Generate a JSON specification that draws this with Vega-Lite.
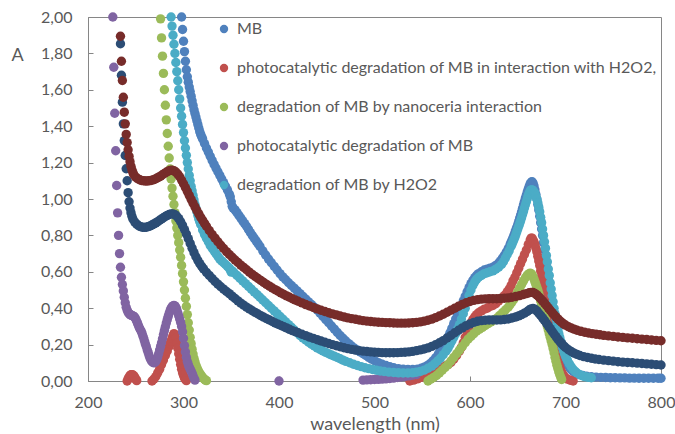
{
"$schema": "https://vega.github.io/schema/vega-lite/v6.json",
"width": 573, "height": 364,
"autosize": {"type": "none"},
"padding": {"left": 88, "top": 17, "right": 14, "bottom": 53},
"background": "white",
"config": {"view": {"stroke": "#868686", "strokeWidth": 1}, "font": "Lato"},
"datasets": {
"series": [
{"k":1,"series":"MB"},
{"k":2,"series":"photocatalytic degradation of MB in interaction with H2O2,"},
{"k":3,"series":"degradation of MB by nanoceria interaction"},
{"k":4,"series":"photocatalytic degradation of MB"},
{"k":5,"series":"degradation of MB by H2O2"},
{"k":6,"series":"series 6"},
{"k":7,"series":"series 7"}
],
"spectra": [
{"k":1,"x":298,"y":2.0},{"k":1,"x":299,"y":1.931},{"k":1,"x":300,"y":1.867},{"k":1,"x":301,"y":1.81},{"k":1,"x":302,"y":1.757},{"k":1,"x":303,"y":1.71},{"k":1,"x":304,"y":1.672},{"k":1,"x":305,"y":1.642},{"k":1,"x":306,"y":1.615},{"k":1,"x":307,"y":1.59},{"k":1,"x":308,"y":1.565},{"k":1,"x":309,"y":1.54},{"k":1,"x":310,"y":1.515},{"k":1,"x":311,"y":1.49},{"k":1,"x":312,"y":1.47},{"k":1,"x":313,"y":1.45},{"k":1,"x":314,"y":1.43},{"k":1,"x":315,"y":1.41},{"k":1,"x":316,"y":1.39},{"k":1,"x":317,"y":1.37},{"k":1,"x":318,"y":1.355},{"k":1,"x":319,"y":1.342},{"k":1,"x":320,"y":1.33},{"k":1,"x":322,"y":1.305},{"k":1,"x":324,"y":1.28},{"k":1,"x":326,"y":1.258},{"k":1,"x":328,"y":1.235},{"k":1,"x":330,"y":1.212},{"k":1,"x":332,"y":1.19},{"k":1,"x":334,"y":1.17},{"k":1,"x":336,"y":1.15},{"k":1,"x":338,"y":1.13},{"k":1,"x":340,"y":1.11},{"k":1,"x":342,"y":1.09},{"k":1,"x":344,"y":1.07},{"k":1,"x":346,"y":1.05},{"k":1,"x":348,"y":1.027},{"k":1,"x":349,"y":1.012},{"k":1,"x":350,"y":0.985},{"k":1,"x":351,"y":0.96},{"k":1,"x":352,"y":0.95},{"k":1,"x":354,"y":0.94},{"k":1,"x":356,"y":0.925},{"k":1,"x":358,"y":0.91},{"k":1,"x":360,"y":0.895},{"k":1,"x":362,"y":0.88},{"k":1,"x":364,"y":0.865},{"k":1,"x":366,"y":0.85},{"k":1,"x":368,"y":0.833},{"k":1,"x":370,"y":0.816},{"k":1,"x":372,"y":0.8},{"k":1,"x":374,"y":0.785},{"k":1,"x":376,"y":0.77},{"k":1,"x":378,"y":0.755},{"k":1,"x":380,"y":0.74},{"k":1,"x":383,"y":0.715},{"k":1,"x":386,"y":0.692},{"k":1,"x":389,"y":0.67},{"k":1,"x":392,"y":0.65},{"k":1,"x":395,"y":0.63},{"k":1,"x":398,"y":0.61},{"k":1,"x":401,"y":0.59},{"k":1,"x":404,"y":0.572},{"k":1,"x":407,"y":0.556},{"k":1,"x":410,"y":0.54},{"k":1,"x":413,"y":0.525},{"k":1,"x":416,"y":0.51},{"k":1,"x":419,"y":0.495},{"k":1,"x":422,"y":0.48},{"k":1,"x":425,"y":0.465},{"k":1,"x":428,"y":0.45},{"k":1,"x":431,"y":0.435},{"k":1,"x":434,"y":0.42},{"k":1,"x":437,"y":0.405},{"k":1,"x":440,"y":0.39},{"k":1,"x":443,"y":0.372},{"k":1,"x":446,"y":0.355},{"k":1,"x":449,"y":0.337},{"k":1,"x":452,"y":0.32},{"k":1,"x":455,"y":0.302},{"k":1,"x":458,"y":0.285},{"k":1,"x":461,"y":0.267},{"k":1,"x":464,"y":0.25},{"k":1,"x":467,"y":0.235},{"k":1,"x":470,"y":0.22},{"k":1,"x":473,"y":0.205},{"k":1,"x":476,"y":0.192},{"k":1,"x":479,"y":0.18},{"k":1,"x":482,"y":0.17},{"k":1,"x":485,"y":0.16},{"k":1,"x":488,"y":0.15},{"k":1,"x":491,"y":0.14},{"k":1,"x":494,"y":0.13},{"k":1,"x":497,"y":0.12},{"k":1,"x":500,"y":0.112},{"k":1,"x":504,"y":0.101},{"k":1,"x":508,"y":0.092},{"k":1,"x":512,"y":0.085},{"k":1,"x":516,"y":0.078},{"k":1,"x":520,"y":0.073},{"k":1,"x":525,"y":0.068},{"k":1,"x":530,"y":0.065},{"k":1,"x":535,"y":0.063},{"k":1,"x":540,"y":0.063},{"k":1,"x":545,"y":0.065},{"k":1,"x":549,"y":0.07},{"k":1,"x":552,"y":0.076},{"k":1,"x":555,"y":0.084},{"k":1,"x":558,"y":0.095},{"k":1,"x":561,"y":0.11},{"k":1,"x":564,"y":0.128},{"k":1,"x":567,"y":0.15},{"k":1,"x":569,"y":0.165},{"k":1,"x":571,"y":0.182},{"k":1,"x":573,"y":0.2},{"k":1,"x":575,"y":0.22},{"k":1,"x":577,"y":0.242},{"k":1,"x":579,"y":0.265},{"k":1,"x":581,"y":0.29},{"k":1,"x":583,"y":0.315},{"k":1,"x":585,"y":0.34},{"k":1,"x":587,"y":0.365},{"k":1,"x":589,"y":0.39},{"k":1,"x":591,"y":0.415},{"k":1,"x":593,"y":0.44},{"k":1,"x":595,"y":0.465},{"k":1,"x":597,"y":0.49},{"k":1,"x":599,"y":0.513},{"k":1,"x":601,"y":0.535},{"k":1,"x":603,"y":0.553},{"k":1,"x":605,"y":0.568},{"k":1,"x":607,"y":0.58},{"k":1,"x":609,"y":0.59},{"k":1,"x":612,"y":0.6},{"k":1,"x":615,"y":0.61},{"k":1,"x":618,"y":0.615},{"k":1,"x":621,"y":0.62},{"k":1,"x":624,"y":0.625},{"k":1,"x":627,"y":0.635},{"k":1,"x":630,"y":0.648},{"k":1,"x":632,"y":0.66},{"k":1,"x":634,"y":0.675},{"k":1,"x":636,"y":0.69},{"k":1,"x":638,"y":0.708},{"k":1,"x":640,"y":0.728},{"k":1,"x":642,"y":0.75},{"k":1,"x":643,"y":0.762},{"k":1,"x":644,"y":0.775},{"k":1,"x":645,"y":0.787},{"k":1,"x":646,"y":0.8},{"k":1,"x":647,"y":0.815},{"k":1,"x":648,"y":0.83},{"k":1,"x":649,"y":0.845},{"k":1,"x":650,"y":0.86},{"k":1,"x":651,"y":0.877},{"k":1,"x":652,"y":0.895},{"k":1,"x":653,"y":0.912},{"k":1,"x":654,"y":0.93},{"k":1,"x":655,"y":0.949},{"k":1,"x":656,"y":0.968},{"k":1,"x":657,"y":0.986},{"k":1,"x":658,"y":1.005},{"k":1,"x":659,"y":1.022},{"k":1,"x":660,"y":1.04},{"k":1,"x":661,"y":1.055},{"k":1,"x":662,"y":1.07},{"k":1,"x":663,"y":1.083},{"k":1,"x":664,"y":1.092},{"k":1,"x":665,"y":1.095},{"k":1,"x":666,"y":1.088},{"k":1,"x":667,"y":1.072},{"k":1,"x":668,"y":1.05},{"k":1,"x":669,"y":1.025},{"k":1,"x":670,"y":1.0},{"k":1,"x":671,"y":0.97},{"k":1,"x":672,"y":0.94},{"k":1,"x":673,"y":0.905},{"k":1,"x":674,"y":0.87},{"k":1,"x":675,"y":0.835},{"k":1,"x":676,"y":0.8},{"k":1,"x":677,"y":0.76},{"k":1,"x":678,"y":0.72},{"k":1,"x":679,"y":0.68},{"k":1,"x":680,"y":0.64},{"k":1,"x":681,"y":0.6},{"k":1,"x":682,"y":0.56},{"k":1,"x":683,"y":0.52},{"k":1,"x":684,"y":0.485},{"k":1,"x":685,"y":0.45},{"k":1,"x":686,"y":0.415},{"k":1,"x":687,"y":0.38},{"k":1,"x":688,"y":0.35},{"k":1,"x":689,"y":0.32},{"k":1,"x":690,"y":0.295},{"k":1,"x":691,"y":0.27},{"k":1,"x":692,"y":0.245},{"k":1,"x":693,"y":0.225},{"k":1,"x":694,"y":0.205},{"k":1,"x":695,"y":0.185},{"k":1,"x":696,"y":0.165},{"k":1,"x":697,"y":0.15},{"k":1,"x":698,"y":0.135},{"k":1,"x":699,"y":0.12},{"k":1,"x":700,"y":0.108},{"k":1,"x":702,"y":0.09},{"k":1,"x":704,"y":0.075},{"k":1,"x":706,"y":0.062},{"k":1,"x":708,"y":0.052},{"k":1,"x":711,"y":0.043},{"k":1,"x":714,"y":0.036},{"k":1,"x":718,"y":0.03},{"k":1,"x":722,"y":0.026},{"k":1,"x":727,"y":0.023},{"k":1,"x":732,"y":0.021},{"k":1,"x":737,"y":0.02},{"k":1,"x":742,"y":0.019},{"k":1,"x":747,"y":0.018},{"k":1,"x":752,"y":0.018},{"k":1,"x":757,"y":0.017},{"k":1,"x":762,"y":0.017},{"k":1,"x":767,"y":0.016},{"k":1,"x":772,"y":0.016},{"k":1,"x":777,"y":0.015},{"k":1,"x":782,"y":0.015},{"k":1,"x":787,"y":0.015},{"k":1,"x":792,"y":0.015},{"k":1,"x":797,"y":0.015},{"k":1,"x":800,"y":0.015},
{"k":2,"x":241,"y":0.0},{"k":2,"x":242,"y":0.012},{"k":2,"x":243,"y":0.022},{"k":2,"x":244,"y":0.03},{"k":2,"x":245,"y":0.034},{"k":2,"x":246,"y":0.035},{"k":2,"x":247,"y":0.033},{"k":2,"x":248,"y":0.028},{"k":2,"x":249,"y":0.02},{"k":2,"x":250,"y":0.01},{"k":2,"x":251,"y":0.002},
{"k":2,"x":267,"y":0.0},{"k":2,"x":269,"y":0.01},{"k":2,"x":271,"y":0.025},{"k":2,"x":273,"y":0.045},{"k":2,"x":275,"y":0.065},{"k":2,"x":277,"y":0.09},{"k":2,"x":279,"y":0.115},{"k":2,"x":281,"y":0.14},{"k":2,"x":283,"y":0.165},{"k":2,"x":285,"y":0.19},{"k":2,"x":286,"y":0.205},{"k":2,"x":287,"y":0.22},{"k":2,"x":288,"y":0.235},{"k":2,"x":289,"y":0.25},{"k":2,"x":290,"y":0.26},{"k":2,"x":291,"y":0.255},{"k":2,"x":292,"y":0.235},{"k":2,"x":293,"y":0.21},{"k":2,"x":294,"y":0.18},{"k":2,"x":295,"y":0.15},{"k":2,"x":296,"y":0.12},{"k":2,"x":297,"y":0.09},{"k":2,"x":298,"y":0.065},{"k":2,"x":299,"y":0.045},{"k":2,"x":300,"y":0.03},{"k":2,"x":301,"y":0.017},{"k":2,"x":302,"y":0.008},{"k":2,"x":303,"y":0.002},
{"k":2,"x":537,"y":0.0},{"k":2,"x":541,"y":0.005},{"k":2,"x":545,"y":0.012},{"k":2,"x":549,"y":0.02},{"k":2,"x":553,"y":0.03},{"k":2,"x":557,"y":0.04},{"k":2,"x":561,"y":0.05},{"k":2,"x":565,"y":0.06},{"k":2,"x":568,"y":0.068},{"k":2,"x":571,"y":0.075},{"k":2,"x":574,"y":0.082},{"k":2,"x":577,"y":0.09},{"k":2,"x":580,"y":0.102},{"k":2,"x":583,"y":0.12},{"k":2,"x":586,"y":0.14},{"k":2,"x":589,"y":0.165},{"k":2,"x":591,"y":0.185},{"k":2,"x":593,"y":0.21},{"k":2,"x":595,"y":0.24},{"k":2,"x":597,"y":0.27},{"k":2,"x":599,"y":0.297},{"k":2,"x":601,"y":0.32},{"k":2,"x":603,"y":0.338},{"k":2,"x":605,"y":0.353},{"k":2,"x":607,"y":0.365},{"k":2,"x":609,"y":0.375},{"k":2,"x":612,"y":0.385},{"k":2,"x":615,"y":0.395},{"k":2,"x":618,"y":0.4},{"k":2,"x":621,"y":0.41},{"k":2,"x":624,"y":0.415},{"k":2,"x":627,"y":0.425},{"k":2,"x":630,"y":0.44},{"k":2,"x":633,"y":0.455},{"k":2,"x":636,"y":0.47},{"k":2,"x":639,"y":0.49},{"k":2,"x":641,"y":0.505},{"k":2,"x":643,"y":0.525},{"k":2,"x":645,"y":0.55},{"k":2,"x":647,"y":0.57},{"k":2,"x":649,"y":0.595},{"k":2,"x":651,"y":0.62},{"k":2,"x":653,"y":0.645},{"k":2,"x":655,"y":0.67},{"k":2,"x":657,"y":0.695},{"k":2,"x":659,"y":0.72},{"k":2,"x":661,"y":0.75},{"k":2,"x":663,"y":0.775},{"k":2,"x":664,"y":0.785},{"k":2,"x":665,"y":0.785},{"k":2,"x":666,"y":0.775},{"k":2,"x":667,"y":0.765},{"k":2,"x":668,"y":0.75},{"k":2,"x":669,"y":0.73},{"k":2,"x":670,"y":0.71},{"k":2,"x":671,"y":0.685},{"k":2,"x":672,"y":0.66},{"k":2,"x":673,"y":0.635},{"k":2,"x":674,"y":0.605},{"k":2,"x":675,"y":0.575},{"k":2,"x":676,"y":0.545},{"k":2,"x":677,"y":0.515},{"k":2,"x":678,"y":0.485},{"k":2,"x":679,"y":0.455},{"k":2,"x":680,"y":0.425},{"k":2,"x":681,"y":0.395},{"k":2,"x":682,"y":0.365},{"k":2,"x":683,"y":0.335},{"k":2,"x":684,"y":0.305},{"k":2,"x":685,"y":0.275},{"k":2,"x":686,"y":0.25},{"k":2,"x":687,"y":0.225},{"k":2,"x":688,"y":0.2},{"k":2,"x":689,"y":0.175},{"k":2,"x":690,"y":0.15},{"k":2,"x":691,"y":0.13},{"k":2,"x":692,"y":0.11},{"k":2,"x":693,"y":0.09},{"k":2,"x":694,"y":0.075},{"k":2,"x":695,"y":0.06},{"k":2,"x":696,"y":0.048},{"k":2,"x":697,"y":0.038},{"k":2,"x":698,"y":0.03},{"k":2,"x":700,"y":0.018},{"k":2,"x":702,"y":0.01},{"k":2,"x":705,"y":0.004},{"k":2,"x":708,"y":0.0},
{"k":3,"x":276,"y":1.99},{"k":3,"x":277,"y":1.885},{"k":3,"x":278,"y":1.785},{"k":3,"x":279,"y":1.69},{"k":3,"x":280,"y":1.6},{"k":3,"x":281,"y":1.515},{"k":3,"x":282,"y":1.435},{"k":3,"x":283,"y":1.36},{"k":3,"x":284,"y":1.29},{"k":3,"x":285,"y":1.225},{"k":3,"x":286,"y":1.165},{"k":3,"x":287,"y":1.11},{"k":3,"x":288,"y":1.06},{"k":3,"x":289,"y":1.015},{"k":3,"x":290,"y":0.97},{"k":3,"x":291,"y":0.925},{"k":3,"x":292,"y":0.88},{"k":3,"x":293,"y":0.84},{"k":3,"x":294,"y":0.8},{"k":3,"x":295,"y":0.76},{"k":3,"x":296,"y":0.72},{"k":3,"x":297,"y":0.68},{"k":3,"x":298,"y":0.635},{"k":3,"x":299,"y":0.59},{"k":3,"x":300,"y":0.545},{"k":3,"x":301,"y":0.5},{"k":3,"x":302,"y":0.455},{"k":3,"x":303,"y":0.41},{"k":3,"x":304,"y":0.365},{"k":3,"x":305,"y":0.32},{"k":3,"x":306,"y":0.28},{"k":3,"x":307,"y":0.24},{"k":3,"x":308,"y":0.205},{"k":3,"x":309,"y":0.175},{"k":3,"x":310,"y":0.148},{"k":3,"x":311,"y":0.125},{"k":3,"x":312,"y":0.105},{"k":3,"x":313,"y":0.088},{"k":3,"x":314,"y":0.074},{"k":3,"x":315,"y":0.062},{"k":3,"x":316,"y":0.051},{"k":3,"x":317,"y":0.042},{"k":3,"x":318,"y":0.034},{"k":3,"x":319,"y":0.027},{"k":3,"x":320,"y":0.02},{"k":3,"x":321,"y":0.014},{"k":3,"x":322,"y":0.009},{"k":3,"x":323,"y":0.005},{"k":3,"x":324,"y":0.002},
{"k":3,"x":556,"y":0.0},{"k":3,"x":559,"y":0.01},{"k":3,"x":562,"y":0.02},{"k":3,"x":565,"y":0.03},{"k":3,"x":568,"y":0.045},{"k":3,"x":571,"y":0.06},{"k":3,"x":574,"y":0.075},{"k":3,"x":577,"y":0.09},{"k":3,"x":580,"y":0.11},{"k":3,"x":583,"y":0.13},{"k":3,"x":586,"y":0.15},{"k":3,"x":589,"y":0.17},{"k":3,"x":592,"y":0.19},{"k":3,"x":595,"y":0.21},{"k":3,"x":598,"y":0.23},{"k":3,"x":601,"y":0.245},{"k":3,"x":604,"y":0.26},{"k":3,"x":607,"y":0.275},{"k":3,"x":610,"y":0.285},{"k":3,"x":613,"y":0.295},{"k":3,"x":616,"y":0.305},{"k":3,"x":619,"y":0.315},{"k":3,"x":622,"y":0.325},{"k":3,"x":625,"y":0.335},{"k":3,"x":628,"y":0.345},{"k":3,"x":631,"y":0.36},{"k":3,"x":634,"y":0.375},{"k":3,"x":637,"y":0.39},{"k":3,"x":640,"y":0.405},{"k":3,"x":642,"y":0.42},{"k":3,"x":644,"y":0.435},{"k":3,"x":646,"y":0.45},{"k":3,"x":648,"y":0.47},{"k":3,"x":650,"y":0.49},{"k":3,"x":652,"y":0.51},{"k":3,"x":654,"y":0.53},{"k":3,"x":656,"y":0.55},{"k":3,"x":658,"y":0.567},{"k":3,"x":660,"y":0.582},{"k":3,"x":662,"y":0.59},{"k":3,"x":663,"y":0.592},{"k":3,"x":664,"y":0.59},{"k":3,"x":665,"y":0.583},{"k":3,"x":666,"y":0.573},{"k":3,"x":667,"y":0.56},{"k":3,"x":668,"y":0.545},{"k":3,"x":669,"y":0.53},{"k":3,"x":670,"y":0.515},{"k":3,"x":671,"y":0.5},{"k":3,"x":672,"y":0.48},{"k":3,"x":673,"y":0.46},{"k":3,"x":674,"y":0.44},{"k":3,"x":675,"y":0.42},{"k":3,"x":676,"y":0.4},{"k":3,"x":677,"y":0.38},{"k":3,"x":678,"y":0.36},{"k":3,"x":679,"y":0.34},{"k":3,"x":680,"y":0.32},{"k":3,"x":681,"y":0.3},{"k":3,"x":682,"y":0.28},{"k":3,"x":683,"y":0.26},{"k":3,"x":684,"y":0.24},{"k":3,"x":685,"y":0.22},{"k":3,"x":686,"y":0.2},{"k":3,"x":687,"y":0.178},{"k":3,"x":688,"y":0.155},{"k":3,"x":689,"y":0.13},{"k":3,"x":690,"y":0.108},{"k":3,"x":691,"y":0.087},{"k":3,"x":692,"y":0.068},{"k":3,"x":693,"y":0.05},{"k":3,"x":694,"y":0.035},{"k":3,"x":695,"y":0.02},{"k":3,"x":696,"y":0.008},
{"k":4,"x":226,"y":2.0},{"k":4,"x":227,"y":1.724},{"k":4,"x":228,"y":1.471},{"k":4,"x":229,"y":1.265},{"k":4,"x":230,"y":1.074},{"k":4,"x":231,"y":0.924},{"k":4,"x":232,"y":0.8},{"k":4,"x":233,"y":0.7},{"k":4,"x":234,"y":0.625},{"k":4,"x":235,"y":0.57},{"k":4,"x":236,"y":0.53},{"k":4,"x":237,"y":0.495},{"k":4,"x":238,"y":0.46},{"k":4,"x":239,"y":0.43},{"k":4,"x":240,"y":0.405},{"k":4,"x":241,"y":0.39},{"k":4,"x":242,"y":0.378},{"k":4,"x":243,"y":0.37},{"k":4,"x":244,"y":0.365},{"k":4,"x":245,"y":0.362},{"k":4,"x":246,"y":0.36},{"k":4,"x":247,"y":0.358},{"k":4,"x":248,"y":0.355},{"k":4,"x":249,"y":0.35},{"k":4,"x":250,"y":0.34},{"k":4,"x":251,"y":0.328},{"k":4,"x":252,"y":0.315},{"k":4,"x":253,"y":0.302},{"k":4,"x":254,"y":0.29},{"k":4,"x":255,"y":0.28},{"k":4,"x":256,"y":0.27},{"k":4,"x":257,"y":0.255},{"k":4,"x":258,"y":0.24},{"k":4,"x":259,"y":0.222},{"k":4,"x":260,"y":0.205},{"k":4,"x":261,"y":0.19},{"k":4,"x":262,"y":0.172},{"k":4,"x":263,"y":0.157},{"k":4,"x":264,"y":0.14},{"k":4,"x":265,"y":0.125},{"k":4,"x":266,"y":0.115},{"k":4,"x":267,"y":0.107},{"k":4,"x":268,"y":0.102},{"k":4,"x":269,"y":0.1},{"k":4,"x":270,"y":0.102},{"k":4,"x":271,"y":0.108},{"k":4,"x":272,"y":0.118},{"k":4,"x":273,"y":0.132},{"k":4,"x":274,"y":0.15},{"k":4,"x":275,"y":0.17},{"k":4,"x":276,"y":0.19},{"k":4,"x":277,"y":0.21},{"k":4,"x":278,"y":0.232},{"k":4,"x":279,"y":0.255},{"k":4,"x":280,"y":0.277},{"k":4,"x":281,"y":0.298},{"k":4,"x":282,"y":0.318},{"k":4,"x":283,"y":0.337},{"k":4,"x":284,"y":0.355},{"k":4,"x":285,"y":0.372},{"k":4,"x":286,"y":0.387},{"k":4,"x":287,"y":0.399},{"k":4,"x":288,"y":0.408},{"k":4,"x":289,"y":0.413},{"k":4,"x":290,"y":0.415},{"k":4,"x":291,"y":0.413},{"k":4,"x":292,"y":0.405},{"k":4,"x":293,"y":0.392},{"k":4,"x":294,"y":0.375},{"k":4,"x":295,"y":0.358},{"k":4,"x":296,"y":0.34},{"k":4,"x":297,"y":0.322},{"k":4,"x":298,"y":0.3},{"k":4,"x":299,"y":0.27},{"k":4,"x":300,"y":0.235},{"k":4,"x":301,"y":0.195},{"k":4,"x":302,"y":0.16},{"k":4,"x":303,"y":0.13},{"k":4,"x":304,"y":0.107},{"k":4,"x":305,"y":0.09},{"k":4,"x":306,"y":0.076},{"k":4,"x":307,"y":0.065},{"k":4,"x":308,"y":0.055},{"k":4,"x":309,"y":0.042},{"k":4,"x":310,"y":0.028},{"k":4,"x":311,"y":0.015},{"k":4,"x":312,"y":0.005},
{"k":4,"x":400,"y":0.0},
{"k":4,"x":488,"y":0.005},{"k":4,"x":492,"y":0.006},{"k":4,"x":496,"y":0.007},{"k":4,"x":500,"y":0.008},{"k":4,"x":504,"y":0.009},{"k":4,"x":508,"y":0.01},{"k":4,"x":512,"y":0.012},{"k":4,"x":516,"y":0.014},{"k":4,"x":520,"y":0.016},{"k":4,"x":524,"y":0.019},{"k":4,"x":528,"y":0.022},{"k":4,"x":532,"y":0.025},{"k":4,"x":536,"y":0.028},{"k":4,"x":540,"y":0.032},{"k":4,"x":544,"y":0.036},
{"k":5,"x":287,"y":2.0},{"k":5,"x":288,"y":1.95},{"k":5,"x":289,"y":1.9},{"k":5,"x":290,"y":1.85},{"k":5,"x":291,"y":1.8},{"k":5,"x":292,"y":1.75},{"k":5,"x":293,"y":1.7},{"k":5,"x":294,"y":1.65},{"k":5,"x":295,"y":1.6},{"k":5,"x":296,"y":1.55},{"k":5,"x":297,"y":1.5},{"k":5,"x":298,"y":1.455},{"k":5,"x":299,"y":1.41},{"k":5,"x":300,"y":1.365},{"k":5,"x":301,"y":1.32},{"k":5,"x":302,"y":1.28},{"k":5,"x":303,"y":1.24},{"k":5,"x":304,"y":1.2},{"k":5,"x":305,"y":1.165},{"k":5,"x":306,"y":1.13},{"k":5,"x":307,"y":1.1},{"k":5,"x":308,"y":1.07},{"k":5,"x":309,"y":1.045},{"k":5,"x":310,"y":1.02},{"k":5,"x":311,"y":0.995},{"k":5,"x":312,"y":0.97},{"k":5,"x":313,"y":0.95},{"k":5,"x":314,"y":0.93},{"k":5,"x":315,"y":0.91},{"k":5,"x":316,"y":0.89},{"k":5,"x":317,"y":0.875},{"k":5,"x":318,"y":0.86},{"k":5,"x":320,"y":0.83},{"k":5,"x":322,"y":0.805},{"k":5,"x":324,"y":0.785},{"k":5,"x":326,"y":0.765},{"k":5,"x":328,"y":0.745},{"k":5,"x":330,"y":0.73},{"k":5,"x":332,"y":0.715},{"k":5,"x":334,"y":0.7},{"k":5,"x":336,"y":0.685},{"k":5,"x":338,"y":0.67},{"k":5,"x":340,"y":0.66},{"k":5,"x":342,"y":0.65},{"k":5,"x":344,"y":0.64},{"k":5,"x":346,"y":0.63},{"k":5,"x":348,"y":0.62},{"k":5,"x":349,"y":0.61},{"k":5,"x":350,"y":0.598},{"k":5,"x":351,"y":0.605},{"k":5,"x":353,"y":0.595},{"k":5,"x":356,"y":0.58},{"k":5,"x":359,"y":0.565},{"k":5,"x":362,"y":0.55},{"k":5,"x":365,"y":0.535},{"k":5,"x":368,"y":0.52},{"k":5,"x":371,"y":0.505},{"k":5,"x":374,"y":0.49},{"k":5,"x":377,"y":0.475},{"k":5,"x":380,"y":0.46},{"k":5,"x":383,"y":0.445},{"k":5,"x":386,"y":0.43},{"k":5,"x":389,"y":0.415},{"k":5,"x":392,"y":0.4},{"k":5,"x":395,"y":0.385},{"k":5,"x":398,"y":0.37},{"k":5,"x":401,"y":0.355},{"k":5,"x":404,"y":0.34},{"k":5,"x":407,"y":0.325},{"k":5,"x":410,"y":0.31},{"k":5,"x":413,"y":0.295},{"k":5,"x":416,"y":0.28},{"k":5,"x":419,"y":0.265},{"k":5,"x":422,"y":0.25},{"k":5,"x":425,"y":0.237},{"k":5,"x":428,"y":0.225},{"k":5,"x":431,"y":0.213},{"k":5,"x":434,"y":0.202},{"k":5,"x":437,"y":0.192},{"k":5,"x":440,"y":0.182},{"k":5,"x":443,"y":0.173},{"k":5,"x":446,"y":0.165},{"k":5,"x":449,"y":0.157},{"k":5,"x":452,"y":0.15},{"k":5,"x":455,"y":0.143},{"k":5,"x":458,"y":0.136},{"k":5,"x":461,"y":0.129},{"k":5,"x":464,"y":0.122},{"k":5,"x":467,"y":0.115},{"k":5,"x":470,"y":0.108},{"k":5,"x":474,"y":0.1},{"k":5,"x":478,"y":0.092},{"k":5,"x":482,"y":0.085},{"k":5,"x":486,"y":0.079},{"k":5,"x":490,"y":0.073},{"k":5,"x":494,"y":0.068},{"k":5,"x":498,"y":0.063},{"k":5,"x":502,"y":0.059},{"k":5,"x":506,"y":0.055},{"k":5,"x":510,"y":0.052},{"k":5,"x":515,"y":0.049},{"k":5,"x":520,"y":0.047},{"k":5,"x":525,"y":0.045},{"k":5,"x":530,"y":0.044},{"k":5,"x":535,"y":0.044},{"k":5,"x":540,"y":0.045},{"k":5,"x":544,"y":0.048},{"k":5,"x":548,"y":0.053},{"k":5,"x":552,"y":0.06},{"k":5,"x":556,"y":0.07},{"k":5,"x":560,"y":0.082},{"k":5,"x":563,"y":0.095},{"k":5,"x":566,"y":0.11},{"k":5,"x":569,"y":0.125},{"k":5,"x":572,"y":0.145},{"k":5,"x":575,"y":0.165},{"k":5,"x":577,"y":0.18},{"k":5,"x":579,"y":0.2},{"k":5,"x":581,"y":0.22},{"k":5,"x":583,"y":0.24},{"k":5,"x":585,"y":0.26},{"k":5,"x":587,"y":0.285},{"k":5,"x":589,"y":0.31},{"k":5,"x":591,"y":0.34},{"k":5,"x":593,"y":0.37},{"k":5,"x":595,"y":0.4},{"k":5,"x":597,"y":0.435},{"k":5,"x":599,"y":0.47},{"k":5,"x":601,"y":0.5},{"k":5,"x":603,"y":0.525},{"k":5,"x":605,"y":0.545},{"k":5,"x":607,"y":0.56},{"k":5,"x":609,"y":0.57},{"k":5,"x":612,"y":0.58},{"k":5,"x":615,"y":0.59},{"k":5,"x":618,"y":0.595},{"k":5,"x":621,"y":0.6},{"k":5,"x":624,"y":0.605},{"k":5,"x":627,"y":0.615},{"k":5,"x":630,"y":0.625},{"k":5,"x":633,"y":0.64},{"k":5,"x":635,"y":0.655},{"k":5,"x":637,"y":0.675},{"k":5,"x":639,"y":0.695},{"k":5,"x":641,"y":0.715},{"k":5,"x":643,"y":0.74},{"k":5,"x":644,"y":0.752},{"k":5,"x":645,"y":0.765},{"k":5,"x":646,"y":0.777},{"k":5,"x":647,"y":0.79},{"k":5,"x":648,"y":0.805},{"k":5,"x":649,"y":0.82},{"k":5,"x":650,"y":0.835},{"k":5,"x":651,"y":0.85},{"k":5,"x":652,"y":0.865},{"k":5,"x":653,"y":0.88},{"k":5,"x":654,"y":0.897},{"k":5,"x":655,"y":0.915},{"k":5,"x":656,"y":0.932},{"k":5,"x":657,"y":0.95},{"k":5,"x":658,"y":0.968},{"k":5,"x":659,"y":0.985},{"k":5,"x":660,"y":1.002},{"k":5,"x":661,"y":1.02},{"k":5,"x":662,"y":1.033},{"k":5,"x":663,"y":1.045},{"k":5,"x":664,"y":1.05},{"k":5,"x":665,"y":1.05},{"k":5,"x":666,"y":1.047},{"k":5,"x":667,"y":1.04},{"k":5,"x":668,"y":1.03},{"k":5,"x":669,"y":1.015},{"k":5,"x":670,"y":1.0},{"k":5,"x":671,"y":0.98},{"k":5,"x":672,"y":0.955},{"k":5,"x":673,"y":0.93},{"k":5,"x":674,"y":0.9},{"k":5,"x":675,"y":0.87},{"k":5,"x":676,"y":0.835},{"k":5,"x":677,"y":0.8},{"k":5,"x":678,"y":0.765},{"k":5,"x":679,"y":0.73},{"k":5,"x":680,"y":0.69},{"k":5,"x":681,"y":0.655},{"k":5,"x":682,"y":0.615},{"k":5,"x":683,"y":0.58},{"k":5,"x":684,"y":0.54},{"k":5,"x":685,"y":0.505},{"k":5,"x":686,"y":0.47},{"k":5,"x":687,"y":0.435},{"k":5,"x":688,"y":0.4},{"k":5,"x":689,"y":0.37},{"k":5,"x":690,"y":0.34},{"k":5,"x":691,"y":0.31},{"k":5,"x":692,"y":0.285},{"k":5,"x":693,"y":0.26},{"k":5,"x":694,"y":0.24},{"k":5,"x":695,"y":0.22},{"k":5,"x":696,"y":0.2},{"k":5,"x":697,"y":0.182},{"k":5,"x":698,"y":0.165},{"k":5,"x":699,"y":0.15},{"k":5,"x":700,"y":0.137},{"k":5,"x":701,"y":0.125},{"k":5,"x":702,"y":0.114},{"k":5,"x":704,"y":0.095},{"k":5,"x":706,"y":0.078},{"k":5,"x":708,"y":0.064},{"k":5,"x":710,"y":0.053},{"k":5,"x":712,"y":0.044},{"k":5,"x":715,"y":0.035},{"k":5,"x":718,"y":0.028},{"k":5,"x":721,"y":0.023},{"k":5,"x":724,"y":0.02},{"k":5,"x":727,"y":0.018},
{"k":6,"x":234,"y":1.853},{"k":6,"x":235,"y":1.68},{"k":6,"x":236,"y":1.532},{"k":6,"x":237,"y":1.413},{"k":6,"x":238,"y":1.321},{"k":6,"x":239,"y":1.239},{"k":6,"x":240,"y":1.166},{"k":6,"x":241,"y":1.1},{"k":6,"x":242,"y":1.035},{"k":6,"x":243,"y":0.985},{"k":6,"x":244,"y":0.95},{"k":6,"x":245,"y":0.925},{"k":6,"x":246,"y":0.905},{"k":6,"x":247,"y":0.89},{"k":6,"x":249,"y":0.873},{"k":6,"x":251,"y":0.862},{"k":6,"x":253,"y":0.853},{"k":6,"x":255,"y":0.848},{"k":6,"x":257,"y":0.845},{"k":6,"x":259,"y":0.844},{"k":6,"x":261,"y":0.845},{"k":6,"x":263,"y":0.848},{"k":6,"x":265,"y":0.852},{"k":6,"x":267,"y":0.857},{"k":6,"x":269,"y":0.863},{"k":6,"x":271,"y":0.869},{"k":6,"x":273,"y":0.876},{"k":6,"x":275,"y":0.883},{"k":6,"x":277,"y":0.89},{"k":6,"x":279,"y":0.897},{"k":6,"x":281,"y":0.904},{"k":6,"x":283,"y":0.91},{"k":6,"x":285,"y":0.915},{"k":6,"x":287,"y":0.918},{"k":6,"x":289,"y":0.918},{"k":6,"x":291,"y":0.914},{"k":6,"x":293,"y":0.905},{"k":6,"x":295,"y":0.892},{"k":6,"x":297,"y":0.875},{"k":6,"x":299,"y":0.855},{"k":6,"x":301,"y":0.832},{"k":6,"x":303,"y":0.808},{"k":6,"x":305,"y":0.782},{"k":6,"x":307,"y":0.756},{"k":6,"x":309,"y":0.73},{"k":6,"x":311,"y":0.705},{"k":6,"x":313,"y":0.683},{"k":6,"x":315,"y":0.663},{"k":6,"x":317,"y":0.645},{"k":6,"x":319,"y":0.63},{"k":6,"x":321,"y":0.616},{"k":6,"x":324,"y":0.597},{"k":6,"x":327,"y":0.58},{"k":6,"x":330,"y":0.563},{"k":6,"x":333,"y":0.547},{"k":6,"x":336,"y":0.532},{"k":6,"x":339,"y":0.518},{"k":6,"x":342,"y":0.505},{"k":6,"x":345,"y":0.492},{"k":6,"x":348,"y":0.48},{"k":6,"x":351,"y":0.466},{"k":6,"x":354,"y":0.453},{"k":6,"x":357,"y":0.44},{"k":6,"x":360,"y":0.428},{"k":6,"x":363,"y":0.417},{"k":6,"x":366,"y":0.406},{"k":6,"x":369,"y":0.396},{"k":6,"x":372,"y":0.386},{"k":6,"x":375,"y":0.377},{"k":6,"x":378,"y":0.368},{"k":6,"x":381,"y":0.359},{"k":6,"x":384,"y":0.351},{"k":6,"x":387,"y":0.343},{"k":6,"x":390,"y":0.335},{"k":6,"x":393,"y":0.327},{"k":6,"x":396,"y":0.319},{"k":6,"x":399,"y":0.312},{"k":6,"x":402,"y":0.305},{"k":6,"x":405,"y":0.298},{"k":6,"x":408,"y":0.291},{"k":6,"x":411,"y":0.284},{"k":6,"x":414,"y":0.277},{"k":6,"x":417,"y":0.271},{"k":6,"x":420,"y":0.265},{"k":6,"x":424,"y":0.257},{"k":6,"x":428,"y":0.249},{"k":6,"x":432,"y":0.241},{"k":6,"x":436,"y":0.234},{"k":6,"x":440,"y":0.227},{"k":6,"x":444,"y":0.22},{"k":6,"x":448,"y":0.213},{"k":6,"x":452,"y":0.206},{"k":6,"x":456,"y":0.2},{"k":6,"x":460,"y":0.194},{"k":6,"x":464,"y":0.188},{"k":6,"x":468,"y":0.183},{"k":6,"x":472,"y":0.178},{"k":6,"x":476,"y":0.174},{"k":6,"x":480,"y":0.17},{"k":6,"x":484,"y":0.167},{"k":6,"x":488,"y":0.164},{"k":6,"x":492,"y":0.162},{"k":6,"x":496,"y":0.16},{"k":6,"x":500,"y":0.158},{"k":6,"x":504,"y":0.157},{"k":6,"x":508,"y":0.156},{"k":6,"x":512,"y":0.155},{"k":6,"x":516,"y":0.155},{"k":6,"x":520,"y":0.155},{"k":6,"x":524,"y":0.156},{"k":6,"x":528,"y":0.157},{"k":6,"x":532,"y":0.158},{"k":6,"x":536,"y":0.16},{"k":6,"x":540,"y":0.163},{"k":6,"x":544,"y":0.167},{"k":6,"x":548,"y":0.171},{"k":6,"x":552,"y":0.176},{"k":6,"x":556,"y":0.182},{"k":6,"x":560,"y":0.19},{"k":6,"x":564,"y":0.199},{"k":6,"x":568,"y":0.21},{"k":6,"x":572,"y":0.222},{"k":6,"x":576,"y":0.236},{"k":6,"x":580,"y":0.25},{"k":6,"x":584,"y":0.265},{"k":6,"x":588,"y":0.279},{"k":6,"x":592,"y":0.292},{"k":6,"x":596,"y":0.304},{"k":6,"x":600,"y":0.314},{"k":6,"x":604,"y":0.322},{"k":6,"x":608,"y":0.328},{"k":6,"x":612,"y":0.332},{"k":6,"x":616,"y":0.334},{"k":6,"x":620,"y":0.335},{"k":6,"x":624,"y":0.335},{"k":6,"x":628,"y":0.335},{"k":6,"x":632,"y":0.336},{"k":6,"x":636,"y":0.338},{"k":6,"x":640,"y":0.341},{"k":6,"x":644,"y":0.346},{"k":6,"x":648,"y":0.352},{"k":6,"x":651,"y":0.358},{"k":6,"x":654,"y":0.365},{"k":6,"x":657,"y":0.373},{"k":6,"x":660,"y":0.382},{"k":6,"x":662,"y":0.39},{"k":6,"x":664,"y":0.396},{"k":6,"x":666,"y":0.398},{"k":6,"x":668,"y":0.394},{"k":6,"x":670,"y":0.385},{"k":6,"x":672,"y":0.372},{"k":6,"x":674,"y":0.36},{"k":6,"x":676,"y":0.347},{"k":6,"x":678,"y":0.333},{"k":6,"x":680,"y":0.318},{"k":6,"x":682,"y":0.303},{"k":6,"x":684,"y":0.288},{"k":6,"x":686,"y":0.273},{"k":6,"x":688,"y":0.258},{"k":6,"x":690,"y":0.244},{"k":6,"x":692,"y":0.23},{"k":6,"x":694,"y":0.217},{"k":6,"x":696,"y":0.205},{"k":6,"x":698,"y":0.194},{"k":6,"x":700,"y":0.184},{"k":6,"x":703,"y":0.172},{"k":6,"x":706,"y":0.162},{"k":6,"x":709,"y":0.153},{"k":6,"x":712,"y":0.146},{"k":6,"x":715,"y":0.14},{"k":6,"x":719,"y":0.134},{"k":6,"x":723,"y":0.129},{"k":6,"x":727,"y":0.125},{"k":6,"x":731,"y":0.121},{"k":6,"x":735,"y":0.118},{"k":6,"x":740,"y":0.115},{"k":6,"x":745,"y":0.112},{"k":6,"x":750,"y":0.109},{"k":6,"x":755,"y":0.106},{"k":6,"x":760,"y":0.104},{"k":6,"x":765,"y":0.102},{"k":6,"x":770,"y":0.1},{"k":6,"x":775,"y":0.098},{"k":6,"x":780,"y":0.096},{"k":6,"x":785,"y":0.094},{"k":6,"x":790,"y":0.092},{"k":6,"x":795,"y":0.09},{"k":6,"x":800,"y":0.088},
{"k":7,"x":234,"y":1.894},{"k":7,"x":235,"y":1.757},{"k":7,"x":236,"y":1.651},{"k":7,"x":237,"y":1.559},{"k":7,"x":238,"y":1.477},{"k":7,"x":239,"y":1.413},{"k":7,"x":240,"y":1.355},{"k":7,"x":241,"y":1.31},{"k":7,"x":242,"y":1.27},{"k":7,"x":243,"y":1.235},{"k":7,"x":244,"y":1.205},{"k":7,"x":245,"y":1.18},{"k":7,"x":246,"y":1.16},{"k":7,"x":247,"y":1.145},{"k":7,"x":248,"y":1.133},{"k":7,"x":250,"y":1.12},{"k":7,"x":252,"y":1.112},{"k":7,"x":254,"y":1.106},{"k":7,"x":256,"y":1.102},{"k":7,"x":258,"y":1.1},{"k":7,"x":260,"y":1.099},{"k":7,"x":262,"y":1.099},{"k":7,"x":264,"y":1.1},{"k":7,"x":266,"y":1.102},{"k":7,"x":268,"y":1.105},{"k":7,"x":270,"y":1.109},{"k":7,"x":272,"y":1.114},{"k":7,"x":274,"y":1.12},{"k":7,"x":276,"y":1.126},{"k":7,"x":278,"y":1.133},{"k":7,"x":280,"y":1.14},{"k":7,"x":282,"y":1.147},{"k":7,"x":284,"y":1.153},{"k":7,"x":286,"y":1.157},{"k":7,"x":288,"y":1.158},{"k":7,"x":290,"y":1.155},{"k":7,"x":292,"y":1.148},{"k":7,"x":294,"y":1.137},{"k":7,"x":296,"y":1.122},{"k":7,"x":298,"y":1.104},{"k":7,"x":300,"y":1.084},{"k":7,"x":302,"y":1.063},{"k":7,"x":304,"y":1.042},{"k":7,"x":306,"y":1.02},{"k":7,"x":308,"y":0.998},{"k":7,"x":310,"y":0.977},{"k":7,"x":312,"y":0.957},{"k":7,"x":314,"y":0.937},{"k":7,"x":316,"y":0.918},{"k":7,"x":318,"y":0.9},{"k":7,"x":320,"y":0.883},{"k":7,"x":322,"y":0.866},{"k":7,"x":324,"y":0.85},{"k":7,"x":327,"y":0.827},{"k":7,"x":330,"y":0.805},{"k":7,"x":333,"y":0.785},{"k":7,"x":336,"y":0.765},{"k":7,"x":339,"y":0.746},{"k":7,"x":342,"y":0.728},{"k":7,"x":345,"y":0.711},{"k":7,"x":348,"y":0.695},{"k":7,"x":351,"y":0.68},{"k":7,"x":354,"y":0.665},{"k":7,"x":357,"y":0.651},{"k":7,"x":360,"y":0.637},{"k":7,"x":363,"y":0.624},{"k":7,"x":366,"y":0.611},{"k":7,"x":369,"y":0.598},{"k":7,"x":372,"y":0.586},{"k":7,"x":375,"y":0.574},{"k":7,"x":378,"y":0.563},{"k":7,"x":381,"y":0.552},{"k":7,"x":384,"y":0.541},{"k":7,"x":387,"y":0.531},{"k":7,"x":390,"y":0.521},{"k":7,"x":393,"y":0.511},{"k":7,"x":396,"y":0.502},{"k":7,"x":399,"y":0.493},{"k":7,"x":402,"y":0.484},{"k":7,"x":405,"y":0.476},{"k":7,"x":408,"y":0.468},{"k":7,"x":411,"y":0.46},{"k":7,"x":414,"y":0.452},{"k":7,"x":417,"y":0.445},{"k":7,"x":420,"y":0.438},{"k":7,"x":424,"y":0.429},{"k":7,"x":428,"y":0.42},{"k":7,"x":432,"y":0.412},{"k":7,"x":436,"y":0.404},{"k":7,"x":440,"y":0.396},{"k":7,"x":444,"y":0.389},{"k":7,"x":448,"y":0.382},{"k":7,"x":452,"y":0.375},{"k":7,"x":456,"y":0.369},{"k":7,"x":460,"y":0.363},{"k":7,"x":464,"y":0.357},{"k":7,"x":468,"y":0.352},{"k":7,"x":472,"y":0.347},{"k":7,"x":476,"y":0.343},{"k":7,"x":480,"y":0.339},{"k":7,"x":484,"y":0.335},{"k":7,"x":488,"y":0.332},{"k":7,"x":492,"y":0.329},{"k":7,"x":496,"y":0.327},{"k":7,"x":500,"y":0.325},{"k":7,"x":504,"y":0.323},{"k":7,"x":508,"y":0.322},{"k":7,"x":512,"y":0.321},{"k":7,"x":516,"y":0.32},{"k":7,"x":520,"y":0.319},{"k":7,"x":524,"y":0.318},{"k":7,"x":528,"y":0.318},{"k":7,"x":532,"y":0.318},{"k":7,"x":536,"y":0.319},{"k":7,"x":540,"y":0.32},{"k":7,"x":544,"y":0.322},{"k":7,"x":548,"y":0.325},{"k":7,"x":552,"y":0.329},{"k":7,"x":556,"y":0.334},{"k":7,"x":560,"y":0.34},{"k":7,"x":564,"y":0.348},{"k":7,"x":568,"y":0.357},{"k":7,"x":572,"y":0.367},{"k":7,"x":576,"y":0.378},{"k":7,"x":580,"y":0.389},{"k":7,"x":584,"y":0.4},{"k":7,"x":588,"y":0.411},{"k":7,"x":592,"y":0.421},{"k":7,"x":596,"y":0.43},{"k":7,"x":600,"y":0.437},{"k":7,"x":604,"y":0.443},{"k":7,"x":608,"y":0.447},{"k":7,"x":612,"y":0.45},{"k":7,"x":616,"y":0.451},{"k":7,"x":620,"y":0.452},{"k":7,"x":624,"y":0.452},{"k":7,"x":628,"y":0.452},{"k":7,"x":632,"y":0.453},{"k":7,"x":636,"y":0.455},{"k":7,"x":640,"y":0.457},{"k":7,"x":644,"y":0.46},{"k":7,"x":648,"y":0.464},{"k":7,"x":652,"y":0.469},{"k":7,"x":656,"y":0.475},{"k":7,"x":659,"y":0.48},{"k":7,"x":662,"y":0.485},{"k":7,"x":664,"y":0.487},{"k":7,"x":666,"y":0.486},{"k":7,"x":668,"y":0.481},{"k":7,"x":670,"y":0.473},{"k":7,"x":672,"y":0.463},{"k":7,"x":674,"y":0.452},{"k":7,"x":676,"y":0.44},{"k":7,"x":678,"y":0.428},{"k":7,"x":680,"y":0.415},{"k":7,"x":682,"y":0.402},{"k":7,"x":684,"y":0.389},{"k":7,"x":686,"y":0.376},{"k":7,"x":688,"y":0.364},{"k":7,"x":690,"y":0.352},{"k":7,"x":692,"y":0.341},{"k":7,"x":694,"y":0.331},{"k":7,"x":696,"y":0.322},{"k":7,"x":698,"y":0.314},{"k":7,"x":700,"y":0.307},{"k":7,"x":703,"y":0.298},{"k":7,"x":706,"y":0.291},{"k":7,"x":709,"y":0.285},{"k":7,"x":712,"y":0.279},{"k":7,"x":716,"y":0.273},{"k":7,"x":720,"y":0.268},{"k":7,"x":724,"y":0.264},{"k":7,"x":728,"y":0.26},{"k":7,"x":732,"y":0.257},{"k":7,"x":736,"y":0.254},{"k":7,"x":740,"y":0.251},{"k":7,"x":745,"y":0.248},{"k":7,"x":750,"y":0.245},{"k":7,"x":755,"y":0.242},{"k":7,"x":760,"y":0.24},{"k":7,"x":765,"y":0.237},{"k":7,"x":770,"y":0.235},{"k":7,"x":775,"y":0.232},{"k":7,"x":780,"y":0.23},{"k":7,"x":785,"y":0.228},{"k":7,"x":790,"y":0.225},{"k":7,"x":795,"y":0.223},{"k":7,"x":800,"y":0.221}
]
},
"data": {"name": "spectra"},
"transform": [{"lookup": "k", "from": {"data": {"name": "series"}, "key": "k", "fields": ["series"]}}],
"mark": {"type": "point", "shape": "circle", "filled": true, "opacity": 1, "size": 88, "strokeWidth": 0},
"encoding": {
"x": {"field": "x", "type": "quantitative",
 "scale": {"domain": [200, 800], "nice": false, "zero": false},
 "axis": {"title": "wavelength (nm)", "values": [200, 300, 400, 500, 600, 700, 800], "grid": false,
  "domainColor": "#868686", "tickColor": "#868686", "tickSize": -5, "labelPadding": 18,
  "labelFontSize": 16, "labelColor": "#595959", "labelFont": "Lato", "labelFlush": false,
  "titleFontSize": 18, "titleColor": "#595959", "titleFont": "Lato", "titleFontWeight": "normal",
  "titleBaseline": "middle", "titleY": 43}},
"y": {"field": "y", "type": "quantitative",
 "scale": {"domain": [0, 2], "nice": false, "zero": true},
 "axis": {"title": "A", "values": [0, 0.2, 0.4, 0.6, 0.8, 1, 1.2, 1.4, 1.6, 1.8, 2], "grid": false,
  "labelExpr": "replace(format(datum.value, '.2f'), '.', ',')",
  "domainColor": "#868686", "tickColor": "#868686", "tickSize": -5, "labelPadding": 21,
  "labelFontSize": 16, "labelColor": "#595959", "labelFont": "Lato", "labelFlush": false,
  "titleAngle": 0, "titleX": -71, "titleY": 38, "titleAlign": "center", "titleBaseline": "middle",
  "titleFontSize": 18, "titleColor": "#595959", "titleFont": "Lato", "titleFontWeight": "normal"}},
"color": {"field": "series", "type": "nominal",
 "scale": {"domain": ["MB", "photocatalytic degradation of MB in interaction with H2O2,", "degradation of MB by nanoceria interaction", "photocatalytic degradation of MB", "degradation of MB by H2O2", "series 6", "series 7"],
  "range": ["#4F81BD", "#C0504D", "#9BBB59", "#8064A2", "#4BACC6", "#2C4D75", "#772C2A"]},
 "legend": {"orient": "none", "legendX": 128, "legendY": 4, "title": null,
  "values": ["MB", "photocatalytic degradation of MB in interaction with H2O2,", "degradation of MB by nanoceria interaction", "photocatalytic degradation of MB", "degradation of MB by H2O2"],
  "symbolType": "circle", "symbolSize": 70, "symbolStrokeWidth": 0, "symbolOpacity": 1,
  "labelFontSize": 16, "labelColor": "#595959", "labelFont": "Lato", "labelLimit": 600,
  "rowPadding": 23, "labelOffset": 5, "padding": 0}}
}
}
